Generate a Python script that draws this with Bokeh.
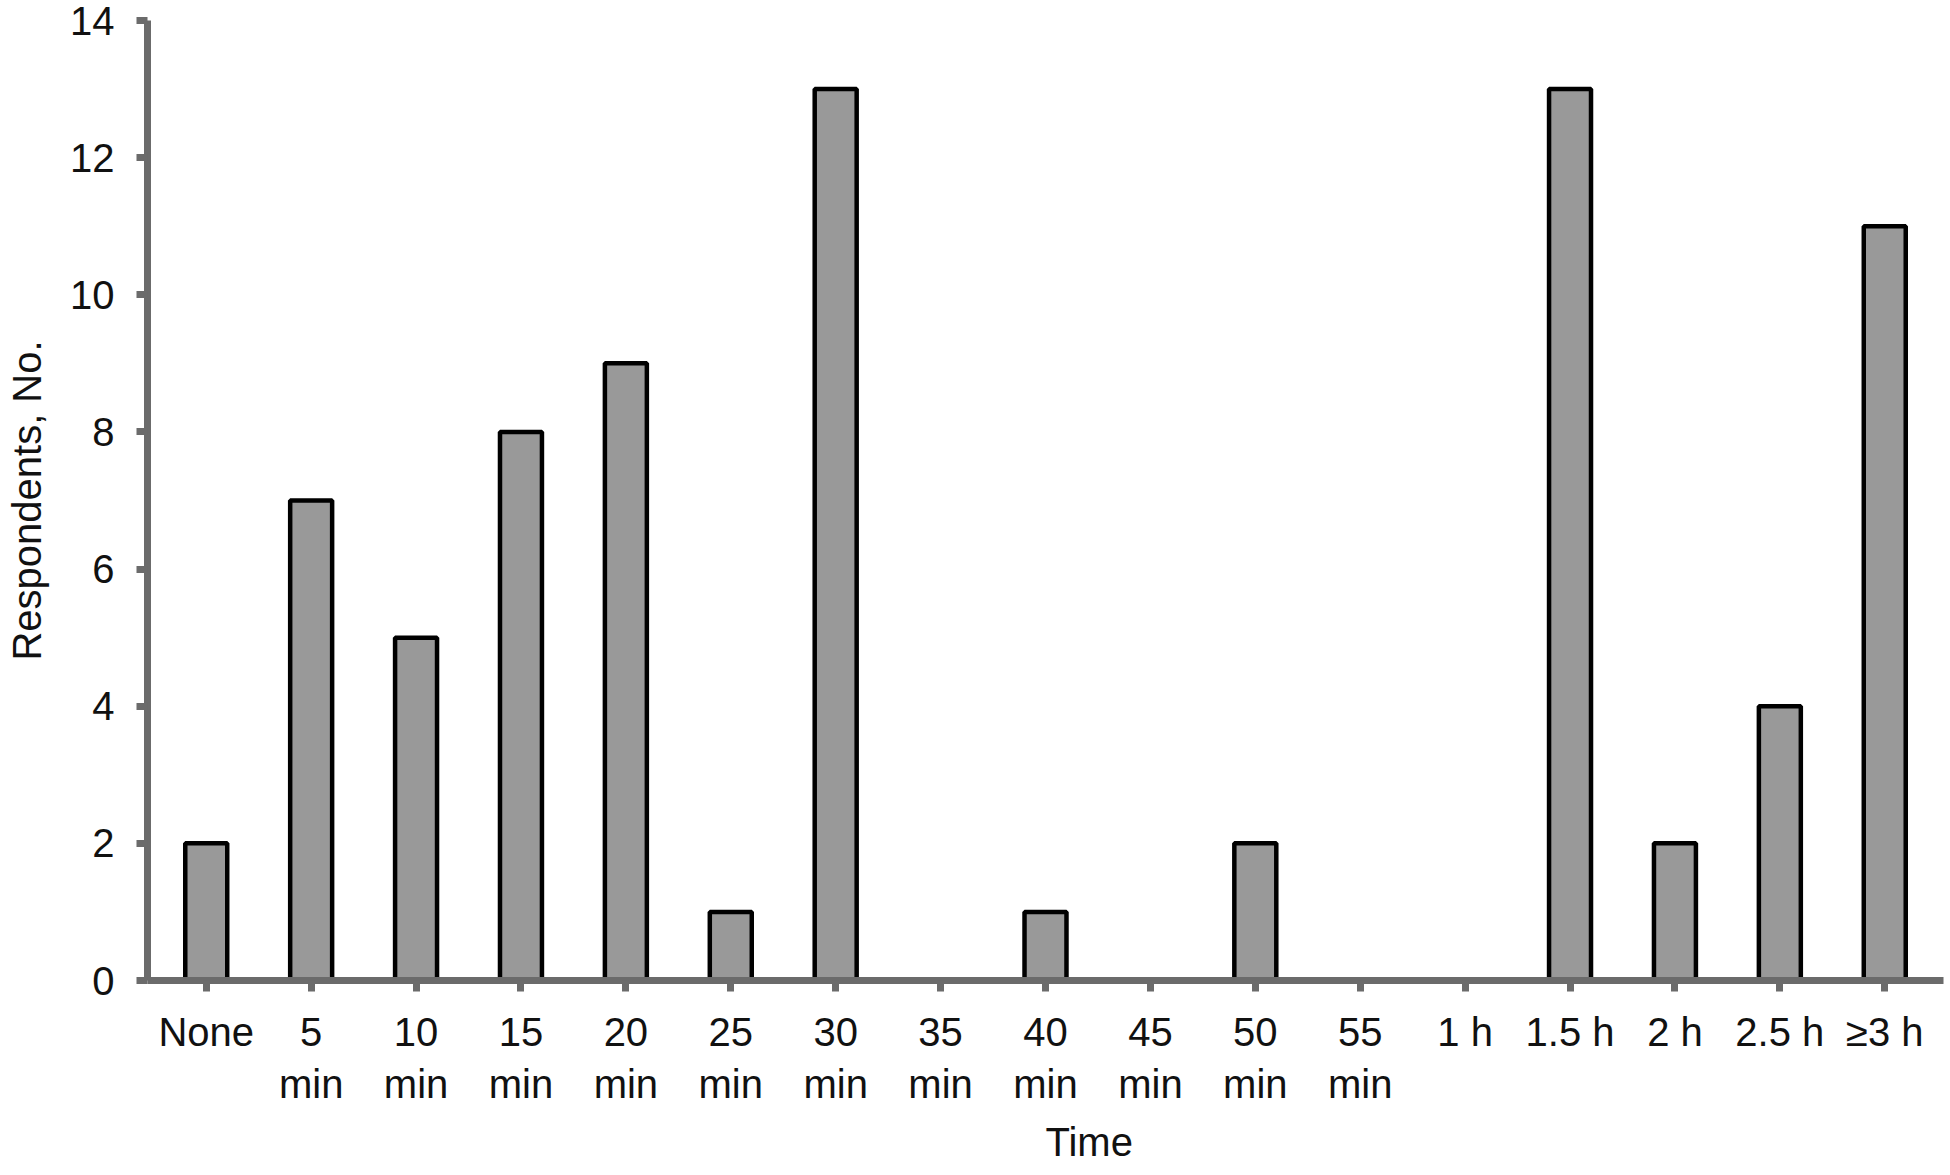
from bokeh.plotting import figure
from bokeh.models import FactorRange, Range1d, Title, FixedTicker, ColumnDataSource
from bokeh.embed import file_html
from bokeh.resources import INLINE

categories = ["None", "5\nmin", "10\nmin", "15\nmin", "20\nmin", "25\nmin", "30\nmin",
              "35\nmin", "40\nmin", "45\nmin", "50\nmin", "55\nmin", "1 h", "1.5 h",
              "2 h", "2.5 h", "\u22653 h"]
respondents = [2, 7, 5, 8, 9, 1, 13, 0, 1, 0, 2, 0, 0, 13, 2, 4, 11]
y_ticks = [0, 2, 4, 6, 8, 10, 12, 14]
x_title = "Time"
y_title = "Respondents, No."

FONT = "Liberation Sans"
AXIS_COLOR = "#6b6b6b"

src = ColumnDataSource(dict(cat=categories, val=respondents))

p = figure(width=1950, height=1175, output_backend="svg", toolbar_location=None,
           x_range=FactorRange(factors=categories, range_padding=0.06,
                               range_padding_units="absolute"),
           y_range=Range1d(0, 14),
           min_border_left=147, min_border_right=7, min_border_top=20,
           min_border_bottom=195)
p.outline_line_color = None
p.xgrid.grid_line_color = None
p.ygrid.grid_line_color = None
p.background_fill_color = "white"
p.border_fill_color = "white"

p.vbar(x="cat", top="val", width=0.4, bottom=0, source=src,
       fill_color="#999999", line_color="black", line_width=4.5)

for ax in (p.xaxis, p.yaxis):
    ax.axis_line_color = AXIS_COLOR
    ax.axis_line_width = 7
    ax.major_tick_line_color = AXIS_COLOR
    ax.major_tick_line_width = 7
    ax.major_tick_out = 11
    ax.major_tick_in = 0
    ax.minor_tick_line_color = None
    ax.major_label_text_font = FONT
    ax.major_label_text_font_size = "40px"
    ax.major_label_text_color = "#111111"
    ax.axis_label_text_font = FONT
    ax.axis_label_text_font_size = "40px"
    ax.axis_label_text_font_style = "normal"
    ax.axis_label_text_color = "#111111"

p.yaxis.ticker = FixedTicker(ticks=y_ticks)
p.yaxis.major_label_standoff = 22
p.yaxis.axis_label = y_title
p.yaxis.axis_label_standoff = 18
p.xaxis.major_label_standoff = 18
p.xaxis.group_text_font_size = "0px"

p.add_layout(Title(text=x_title, align="left", offset=898, standoff=20,
                   vertical_align="top",
                   text_font=FONT, text_font_size="40px", text_font_style="normal",
                   text_color="#111111"), "below")

open("out.html", "w").write(file_html(p, INLINE))
